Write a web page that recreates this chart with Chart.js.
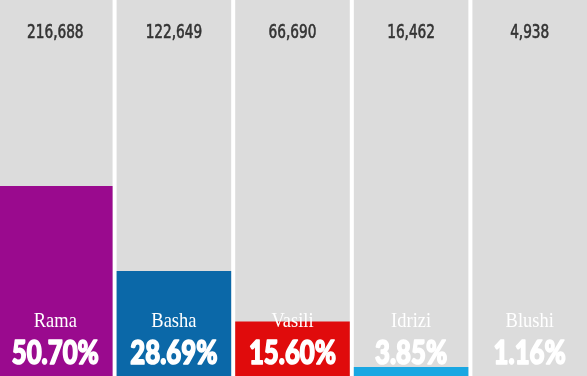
<!DOCTYPE html>
<html>
<head>
<meta charset="utf-8">
<script src="https://cdn.jsdelivr.net/npm/chart.js@4/dist/chart.umd.min.js"></script>
<style>
  html, body { margin: 0; padding: 0; background: #fff; overflow: hidden; }
  #wrap { position: relative; width: 593px; height: 376px; margin-left: -4px; }
</style>
</head>
<body>
<div id="wrap"><canvas id="graphicFirst"></canvas></div>
<script>
// Resultados por candidato - columnas con porcentaje

const candidates = ['Rama', 'Basha', 'Vasili', 'Idrizi', 'Blushi'];
const votes = ['216,688', '122,649', '66,690', '16,462', '4,938'];
const percents = [50.70, 28.69, 15.60, 3.85, 1.16];
const barColors = ['#9a0a8e', '#0b68a8', '#e00b0c', '#1aa7e2'];
const trackMax = 98.86;
const trackValues = [trackMax, trackMax, trackMax, trackMax, trackMax];

//---LABELS
const labelsPlugin = {
  id: 'labelsPlugin',
  afterDatasetsDraw(chart) {
    const ctx = chart.ctx;
    const xs = chart.scales.x;
    ctx.save();
    ctx.textAlign = 'center';
    ctx.textBaseline = 'middle';
    candidates.forEach(function (name, i) {
      const cx = xs.getPixelForValue(i);

      // vote counts on top
      ctx.save();
      ctx.translate(cx, 33);
      ctx.scale(0.76, 1);
      ctx.fillStyle = '#333';
      ctx.strokeStyle = '#333';
      ctx.lineWidth = 0.6;
      ctx.font = '20px "Liberation Sans Narrow", "DejaVu Sans Condensed", sans-serif';
      ctx.strokeText(votes[i], 0, 0);
      ctx.fillText(votes[i], 0, 0);
      ctx.restore();

      // name
      ctx.save();
      ctx.translate(cx, 321);
      ctx.scale(0.84, 1);
      ctx.fillStyle = '#fff';
      ctx.font = '22px "Liberation Serif", "DejaVu Serif", serif';
      ctx.fillText(name, 0, 0);
      ctx.restore();

      // percent
      ctx.save();
      ctx.translate(cx, 353);
      ctx.scale(0.78, 1);
      ctx.fillStyle = '#fff';
      ctx.strokeStyle = '#fff';
      ctx.lineWidth = 1.6;
      ctx.lineJoin = 'round';
      ctx.font = '900 33px Lato, Roboto, sans-serif';
      ctx.strokeText(percents[i].toFixed(2) + '%', 0, 0);
      ctx.fillText(percents[i].toFixed(2) + '%', 0, 0);
      ctx.restore();
    });
    ctx.restore();
  }
};

let chart1;
function drawChart() {
  var ctx = document.getElementById('graphicFirst').getContext('2d');
  if (chart1) {
    chart1.destroy();
  }
  chart1 = new Chart(ctx, {
    type: 'bar',
    data: {
      labels: candidates,
      datasets: [
        {
          label: 'track',
          data: trackValues,
          backgroundColor: '#dcdcdc',
          grouped: false,
          order: 2,
          barPercentage: 0.966,
          categoryPercentage: 1
        },
        {
          label: 'percent',
          data: percents,
          backgroundColor: barColors.concat(['#999999']),
          grouped: false,
          order: 1,
          barPercentage: 0.966,
          categoryPercentage: 1
        }
      ]
    },
    plugins: [labelsPlugin],
    options: {
      responsive: true,
      maintainAspectRatio: false,
      animation: false,
      layout: { padding: 0 },
      plugins: {
        legend: { display: false },
        tooltip: { enabled: false }
      },
      scales: {
        x: { display: false, offset: true },
        y: { display: false, min: 1.5, max: trackMax }
      }
    }
  });
}

drawChart();
</script>
</body>
</html>
